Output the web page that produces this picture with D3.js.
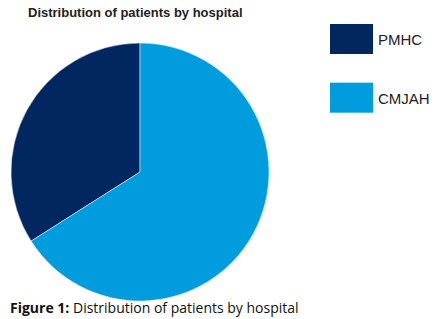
<!DOCTYPE html>
<html>
<head>
<meta charset="utf-8">
<script src="https://cdn.jsdelivr.net/npm/d3@7"></script>
<style>
  body { margin: 0; background: #fff; }
  svg { display: block; }
</style>
</head>
<body>
<svg></svg>
<script>
// ====== donnees ====== //
const hospitals = ["PMHC", "CMJAH"];
const shares = [34, 66];
const colors = ["#00275f", "#009cde"];

const width = 441;
const height = 319;

const svg = d3.select("svg")
    .attr("width", width)
    .attr("height", height);

// titre du haut
svg.append("text")
    .attr("x", 28)
    .attr("y", 17)
    .attr("font-family", "Liberation Sans, Arial, sans-serif")
    .attr("font-weight", "bold")
    .attr("font-size", 13)
    .attr("fill", "#222")
    .text("Distribution of patients by hospital");

// camembert
const radius = 129;
const pie = d3.pie().sort(null)
    .startAngle(2 * Math.PI)
    .endAngle(0);
const arc = d3.arc().innerRadius(0).outerRadius(radius);

const g = svg.append("g")
    .attr("transform", "translate(140,172)");

g.selectAll("path")
    .data(pie(shares))
    .enter()
    .append("path")
    .attr("d", arc)
    .attr("fill", (d, i) => colors[i])
    .attr("stroke", "#fff")
    .attr("stroke-width", 0.5);

// legende
const y = d3.scaleBand().domain(hospitals).range([24, 112]).paddingInner(0.5);

const leg = svg.selectAll(".leg")
    .data(hospitals)
    .enter()
    .append("g")
    .attr("class", "leg");

leg.append("rect")
    .attr("x", 330)
    .attr("y", d => y(d))
    .attr("width", 43)
    .attr("height", 30)
    .attr("fill", (d, i) => colors[i]);

leg.append("text")
    .attr("x", 378)
    .attr("y", d => y(d) + 21)
    .attr("font-family", "Liberation Sans, Arial, sans-serif")
    .attr("font-size", 15)
    .attr("fill", "#222")
    .text(d => d);

// legende figure
const cap = svg.append("text")
    .attr("x", 10)
    .attr("y", 313)
    .attr("font-family", "Open Sans, sans-serif")
    .attr("font-size", 14)
    .attr("fill", "#111");
cap.append("tspan").attr("font-weight", "bold").text("Figure 1:");
cap.append("tspan").text(" Distribution of patients by hospital");
</script>
</body>
</html>
